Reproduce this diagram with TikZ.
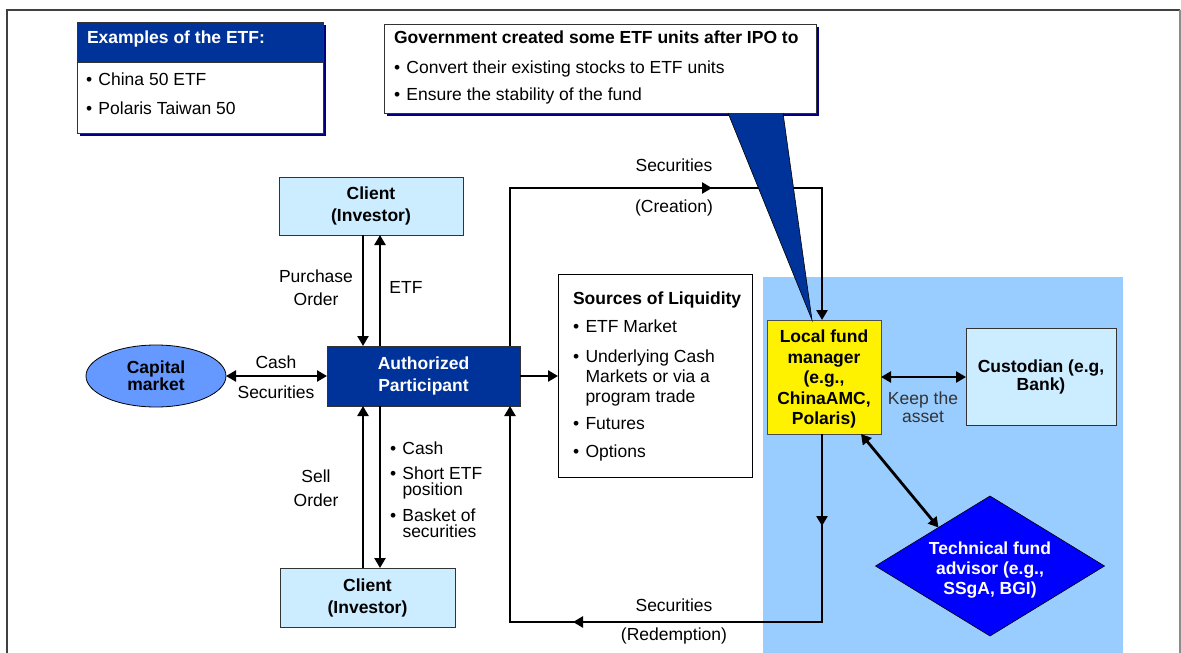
\documentclass[tikz,border=0pt]{standalone}
\usepackage{fontspec}
\setmainfont{Liberation Sans}
\usetikzlibrary{arrows.meta,shapes.geometric,decorations.markings,calc}
\definecolor{navy}{HTML}{003399}
\definecolor{shadowblue}{HTML}{000080}
\definecolor{lightblue}{HTML}{CCECFF}
\definecolor{bgblue}{HTML}{99CCFF}
\definecolor{ellblue}{HTML}{6699FF}
\definecolor{diablue}{HTML}{0000FF}
\definecolor{framegray}{HTML}{404040}
\newcommand{\bl}{\makebox[12.5pt][l]{•}}
\newcommand{\ind}{\hspace*{12.5pt}}
\begin{document}
\begin{tikzpicture}[x=1pt,y=-1pt,
  font=\fontsize{17.5}{20}\selectfont,
  every node/.style={inner sep=0pt, outer sep=0pt},
  >={Triangle[length=10pt,width=11pt]},
  conn/.style={line width=2.8pt, ->},
  dconn/.style={line width=2.8pt, <->},
  plainbox/.style={draw=black!80, line width=0.8pt, align=center, font=\fontsize{17.5}{22}\selectfont\bfseries},
  shadowfill/.style={fill=shadowblue},
  midmarks/.style={postaction={decorate}, decoration={markings, #1}}
]
\useasboundingbox (0,0) rectangle (1181,653);
% blue background
\fill[bgblue] (763,277) rectangle (1123,653);
% frame
\draw[framegray, line width=2pt] (7,653) -- (7,9.5) -- (1180,9.5);
\draw[black!45, line width=1.2pt] (1180,9.5) -- (1180,653);

% examples box
\fill[shadowfill] (80,25) rectangle (326,136);
\node[draw=black!80, line width=0.8pt, fill=white, minimum width=246pt, minimum height=111pt] (exBox) at (200,77.5) {};
\node[draw=black!80, line width=0.8pt, fill=navy, minimum width=246pt, minimum height=40pt, anchor=north] (exHead) at (exBox.north) {};
\node[anchor=west, text=white, font=\fontsize{17.5}{20}\selectfont\bfseries] (exTitle) at (87,39) {Examples of the ETF:};
\node[anchor=north west, align=left] (exList) at (86,72.5) {\bl China 50 ETF\\[9pt]\bl Polaris Taiwan 50};

% callout box
\fill[shadowfill] (387,27) rectangle (819,116);
\node[draw=black!80, line width=0.8pt, fill=white, minimum width=432pt, minimum height=89pt] (callout) at (600,68.5) {};
\node[anchor=north west, align=left] (callText) at (394,30.5) {\textbf{Government created some ETF units after IPO to}\\[10pt]\bl Convert their existing stocks to ETF units\\[7pt]\bl Ensure the stability of the fund};

% main nodes
\node[plainbox, fill=lightblue, minimum width=184pt, minimum height=58pt] (clientT) at (371,206) {Client\\(Investor)};
\node[plainbox, fill=lightblue, minimum width=175pt, minimum height=59pt] (clientB) at (367.5,597.5) {Client\\(Investor)};
\node[plainbox, fill=navy, text=white, minimum width=193pt, minimum height=60pt] (ap) at (423.5,376) {Authorized\\Participant};
\node[ellipse, draw=black, line width=0.8pt, fill=ellblue, minimum width=140pt, minimum height=62pt, align=center, font=\fontsize{17.5}{16}\selectfont\bfseries] (capital) at (156,376) {Capital\\market};
\node[draw=black, line width=0.8pt, fill=white, minimum width=194pt, minimum height=203pt] (sources) at (655,375.5) {};
\node[anchor=north west, align=left] (srcText) at (573,291.5) {\textbf{Sources of Liquidity}\\[8pt]\bl ETF Market\\[10pt]\bl Underlying Cash\\\ind Markets or via a\\\ind program trade\\[7pt]\bl Futures\\[8pt]\bl Options};
\node[fill=yellow, draw=black!70, line width=0.8pt, minimum width=114pt, minimum height=114pt] (lfm) at (824,377) {};
\node[align=center, font=\fontsize{17.5}{20.5}\selectfont\bfseries] (lfmText) at (824,379) {Local fund\\manager\\(e.g.,\\ChinaAMC,\\Polaris)};
\node[plainbox, fill=lightblue, minimum width=150pt, minimum height=97pt, font=\fontsize{17.5}{18}\selectfont\bfseries] (cust) at (1041,376.5) {Custodian (e.g,\\Bank)};
\node[diamond, aspect=1.636, fill=diablue, draw=black, line width=0.6pt, minimum width=229pt, minimum height=140pt] (dia) at (990,566) {};
\node[align=center, text=white, font=\fontsize{17.5}{20}\selectfont\bfseries] (diaText) at (990,570) {Technical fund\\advisor (e.g.,\\SSgA, BGI)};

% helper coordinates
\coordinate (cA) at (363,0);
\coordinate (cB) at (380,0);
\coordinate (lx) at (510,0);
\coordinate (rx) at (822,0);
\coordinate (ty) at (0,188);
\coordinate (by) at (0,622);

% connectors
\draw[conn] (clientT.south -| cA) -- (ap.north -| cA);
\draw[conn] (ap.north -| cB) -- (clientT.south -| cB);
\draw[conn] (clientB.north -| cA) -- (ap.south -| cA);
\draw[conn] (ap.south -| cB) -- (clientB.north -| cB);
\draw[dconn] (capital.east) -- (ap.west);
\draw[conn] (ap.east) -- (ap.east -| sources.west);
\draw[conn, midmarks={mark=at position 360pt with {\arrow{>}}}] (ap.north -| lx) -- (lx |- ty) -- (rx |- ty) -- (lfm.north -| rx);
\draw[conn, midmarks={mark=at position 92pt with {\arrow{>}}, mark=at position 437pt with {\arrow{>}}}] (lfm.south -| rx) -- (rx |- by) -- (lx |- by) -- (ap.south -| lx);
\draw[dconn] (lfm.east) -- (lfm.east -| cust.west);
\draw[dconn] ([xshift=-20pt]lfm.south east) -- ($(dia.north west)!0.1!(dia.north)$);

% callout pointer
\filldraw[fill=navy, draw=black, line width=0.6pt] ([xshift=128pt]callout.south) -- ([xshift=-12pt]lfm.north) -- ([xshift=183pt]callout.south);

% labels
\node[align=center, font=\fontsize{17.5}{23}\selectfont] (lPO) at (316,288) {Purchase\\Order};
\node (lETF) at (406,287) {ETF};
\node (lCash) at (276,362) {Cash};
\node (lSec) at (276,392) {Securities};
\node[align=center, font=\fontsize{17.5}{24}\selectfont] (lSO) at (316,488) {Sell\\Order};
\node[anchor=north west, align=left, font=\fontsize{17.5}{16}\selectfont] (lRed) at (390,441.5) {\bl Cash\\[9pt]\bl Short ETF\\\ind position\\[9pt]\bl Basket of\\\ind securities};
\node (lS1) at (674,165) {Securities};
\node (lC1) at (674,208) {(Creation)};
\node (lS2) at (674,605) {Securities};
\node (lR2) at (674,636) {(Redemption)};
\node[align=center, text=black!80, font=\fontsize{17.5}{18}\selectfont] (lKeep) at (923,407) {Keep the\\asset};
\end{tikzpicture}
\end{document}
